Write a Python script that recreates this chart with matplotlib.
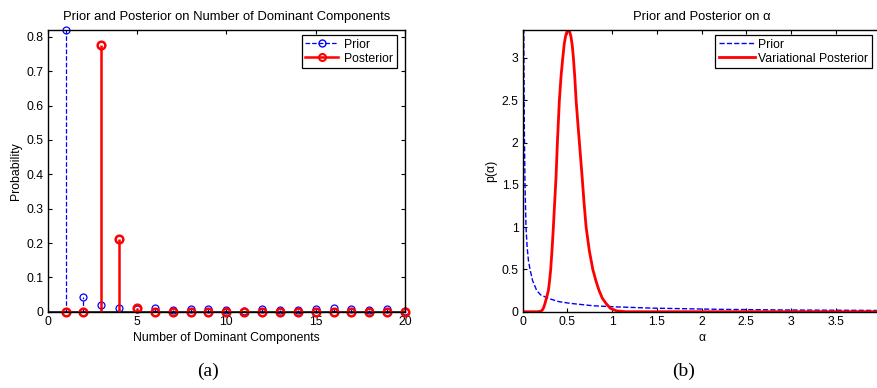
import numpy as np
import matplotlib.pyplot as plt
from matplotlib.lines import Line2D

plt.rcParams['font.family'] = ['Liberation Sans', 'DejaVu Sans']

# (a) number of dominant components
k = list(range(1, 21))
prior_k = [0.82, 0.044, 0.020, 0.012, 0.009, 0.012, 0.006, 0.008, 0.007, 0.005,
           0.002, 0.008, 0.005, 0.005, 0.007, 0.012, 0.009, 0.006, 0.007, 0.001]
post_k = [0.0, 0.0, 0.777, 0.213, 0.010, 0.0, 0.0, 0.0, 0.0, 0.0,
          0.0, 0.0, 0.0, 0.0, 0.0, 0.0, 0.0, 0.0, 0.0, 0.0]

# (b) density of alpha
alpha_prior = [0.008, 0.012, 0.018, 0.026, 0.037, 0.05, 0.065, 0.082, 0.11, 0.157,
               0.2, 0.287, 0.4, 0.53, 0.79, 1.05, 1.46, 2.2, 3.0, 4.0]
p_prior = [5.0, 3.3, 2.2, 1.5, 1.0, 0.76, 0.6, 0.5, 0.37, 0.25,
           0.2, 0.158, 0.12, 0.099, 0.07, 0.057, 0.042, 0.028, 0.02, 0.015]
alpha_post = [0.0, 0.17, 0.2, 0.22, 0.235, 0.25, 0.268, 0.287, 0.30, 0.313, 0.328, 0.343,
              0.358, 0.373, 0.388, 0.41, 0.43, 0.448, 0.465, 0.48, 0.495, 0.51, 0.525,
              0.54, 0.555, 0.567, 0.582, 0.597, 0.615, 0.634, 0.664, 0.685, 0.709, 0.745,
              0.784, 0.82, 0.854, 0.89, 0.93, 0.98, 1.05, 1.15, 4.0]
p_post = [0.0, 0.0, 0.005, 0.02, 0.05, 0.1, 0.17, 0.25, 0.36, 0.5, 0.73, 1.0,
          1.3, 1.6, 2.0, 2.5, 2.8, 3.0, 3.17, 3.26, 3.31, 3.33, 3.31,
          3.25, 3.14, 3.0, 2.78, 2.5, 2.25, 2.0, 1.6, 1.3, 1.0, 0.72,
          0.5, 0.36, 0.25, 0.16, 0.1, 0.04, 0.01, 0.0, 0.0]

fig = plt.figure(figsize=(8.77, 3.88), dpi=100)
ax1 = fig.add_axes([0.0544, 0.1966, 0.4074, 0.726])
ax2 = fig.add_axes([0.596, 0.1966, 0.408, 0.726])

fs = 8.8
for ax in (ax1, ax2):
    ax.tick_params(direction='in', top=True, right=True, labelsize=fs, length=3, pad=3)
    for s in ax.spines.values():
        s.set_linewidth(1.0)

# left panel
st1 = ax1.stem(k, prior_k, linefmt='b--', markerfmt='bo', basefmt='k-')
st1.markerline.set_markerfacecolor('none')
st1.markerline.set_markersize(5)
st1.markerline.set_markeredgewidth(0.9)
st1.markerline.set_clip_on(False)
st1.stemlines.set_linewidth(0.9)
st1.baseline.set_linewidth(1.8)
st1.baseline.set_xdata([0, 20])
st2 = ax1.stem(k, post_k, linefmt='r-', markerfmt='ro', basefmt='k-')
st2.markerline.set_markerfacecolor('none')
st2.markerline.set_markersize(5.5)
st2.markerline.set_markeredgewidth(1.8)
st2.markerline.set_clip_on(False)
st2.stemlines.set_linewidth(1.8)
st2.baseline.set_visible(False)
ax1.set_xlim(0, 20)
ax1.set_ylim(0, 0.82)
ax1.set_xticks([0, 5, 10, 15, 20])
ax1.set_yticks(np.arange(0, 0.81, 0.1))
ax1.set_yticklabels(['0', '0.1', '0.2', '0.3', '0.4', '0.5', '0.6', '0.7', '0.8'])
ax1.set_xlabel('Number of Dominant Components', fontsize=fs, labelpad=3)
ax1.set_ylabel('Probability', fontsize=fs, labelpad=3)
ax1.set_title('Prior and Posterior on Number of Dominant Components', fontsize=fs + 0.6, pad=7)
h1 = [Line2D([], [], color='b', ls='--', lw=0.9, marker='o', mfc='none', ms=5),
      Line2D([], [], color='r', ls='-', lw=1.8, marker='o', mfc='none', ms=5, mew=1.5)]
leg1 = ax1.legend(h1, ['Prior', 'Posterior'], loc='upper right', fontsize=fs, fancybox=False,
                  framealpha=1, edgecolor='k', borderpad=0.3, labelspacing=0.15,
                  handlelength=2.7, handletextpad=0.5, borderaxespad=0,
                  bbox_to_anchor=(0.978, 0.982))
leg1.get_frame().set_linewidth(0.9)

# right panel
ax2.plot(alpha_prior, p_prior, 'b--', lw=1.0, label='Prior')
ax2.plot(alpha_post, p_post, 'r-', lw=2.0, label='Variational Posterior')
ax2.set_xlim(0, 4)
ax2.set_ylim(0, 3.33)
ax2.set_xticks(np.arange(0, 4.01, 0.5))
ax2.set_xticklabels(['0', '0.5', '1', '1.5', '2', '2.5', '3', '3.5', ''])
ax2.set_yticks([0, 0.5, 1, 1.5, 2, 2.5, 3])
ax2.set_yticklabels(['0', '0.5', '1', '1.5', '2', '2.5', '3'])
ax2.set_xlabel('α', fontsize=fs, labelpad=3)
ax2.set_ylabel('p(α)', fontsize=fs, labelpad=3)
ax2.set_title('Prior and Posterior on α', fontsize=fs + 0.6, pad=7)
leg2 = ax2.legend(loc='upper right', fontsize=fs, fancybox=False, framealpha=1, edgecolor='k',
                  borderpad=0.3, labelspacing=0.15, handlelength=2.9, handletextpad=0.3,
                  borderaxespad=0, bbox_to_anchor=(0.976, 0.982))
leg2.get_frame().set_linewidth(0.9)

fig.text(208 / 877, 1 - 371 / 388, '(a)', family='Liberation Serif', fontsize=14, ha='center', va='center')
fig.text(684 / 877, 1 - 371 / 388, '(b)', family='Liberation Serif', fontsize=14, ha='center', va='center')

fig.savefig('out.png', dpi=100)
